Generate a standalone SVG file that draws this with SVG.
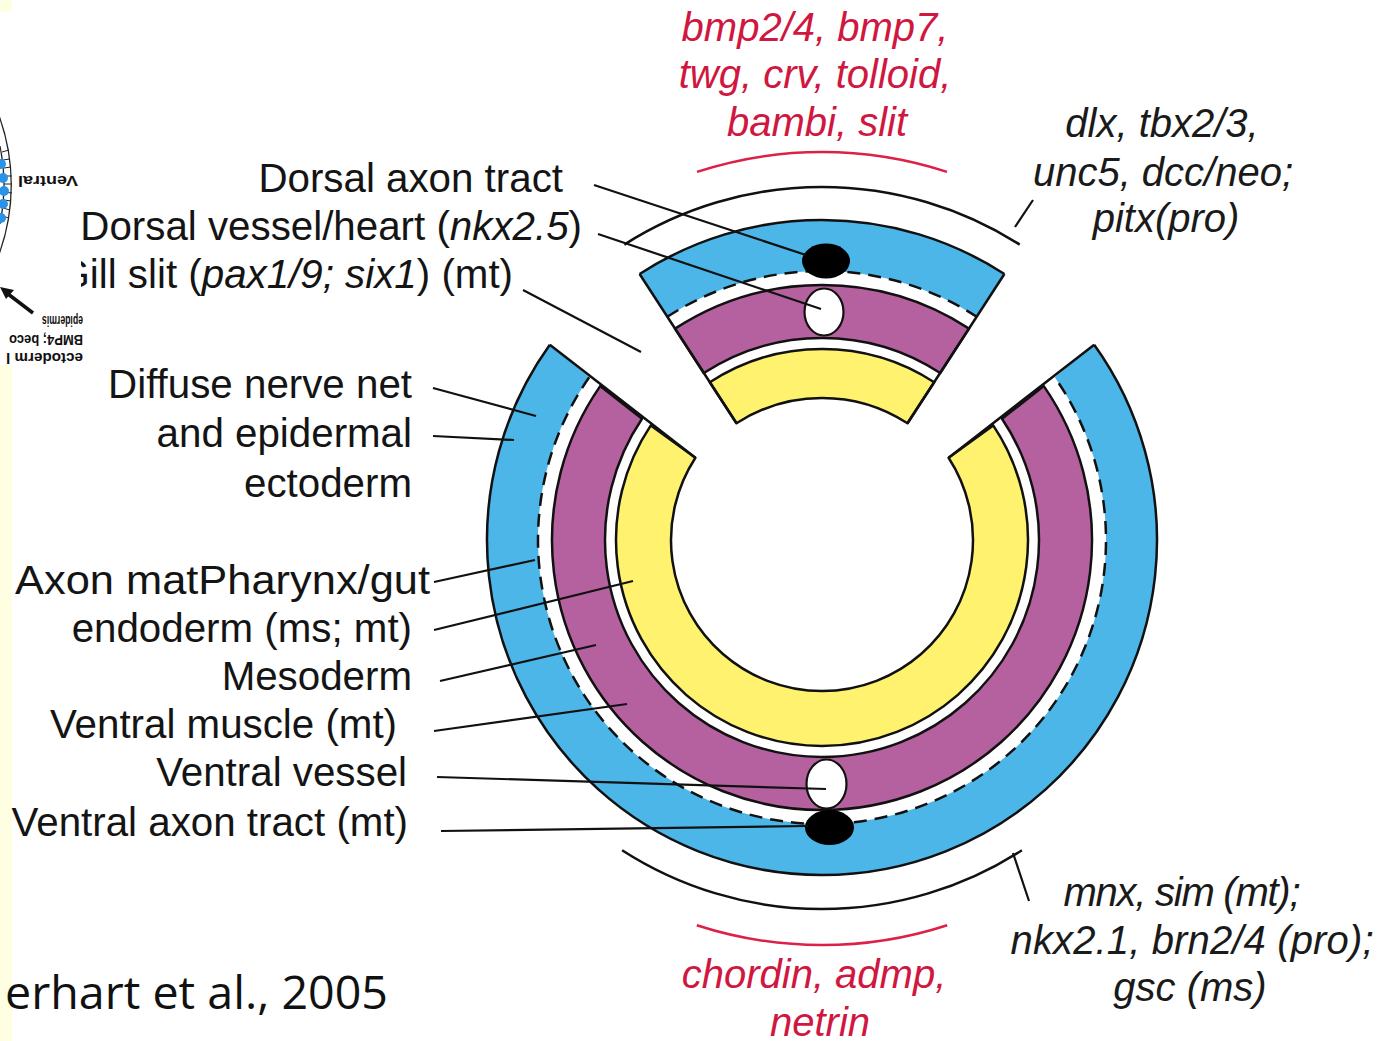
<svg xmlns="http://www.w3.org/2000/svg" width="1393" height="1041" viewBox="0 0 1393 1041">
  <style>
    .lbl { font-family: "Liberation Sans", Arial, sans-serif; font-size: 40.3px; fill: #141414; }
    .gene { font-family: "Liberation Sans", Arial, sans-serif; font-size: 40px; font-style: italic; fill: #1a1a1a; text-anchor: middle; }
    .red { font-family: "Liberation Sans", Arial, sans-serif; font-size: 40px; font-style: italic; fill: #d0173f; text-anchor: middle; }
    .it { font-style: italic; }
    .end { text-anchor: end; }
    .blue { fill: #4cb6e9; stroke: none; }
    .mag { fill: #b5619f; stroke: #111; stroke-width: 2.5; stroke-linejoin: round; }
    .yel { fill: #fff26e; stroke: #111; stroke-width: 2.5; stroke-linejoin: round; }
    .edge { fill: none; stroke: #111; stroke-width: 2.5; }
    .dash { fill: none; stroke: #111; stroke-width: 2.5; stroke-dasharray: 13 8; }
    .lead { fill: none; stroke: #111; stroke-width: 2.2; }
    .arc { fill: none; stroke: #111; stroke-width: 2.5; }
    .rarc { fill: none; stroke: #dd2047; stroke-width: 2.5; }
    .inset { font-family: "Liberation Sans", Arial, sans-serif; font-size: 15px; font-weight: bold; fill: #111; }
  </style>

  <rect x="0" y="0" width="1393" height="1041" fill="#ffffff"/>
  <!-- pale slide strip along the left edge -->
  <rect x="0" y="0" width="12" height="1041" fill="#fefee2"/>

  <!-- ventral (lower) body wall: ectoderm, mesoderm, endoderm rings -->
  <g id="ventral-piece">
    <path class="blue" d="M 549.8,344.7 A 335 335 0 1 0 1094.2,344.7 L 1054.8,377.3 A 284 284 0 1 1 589.2,377.3 Z"/>
    <path class="edge" d="M 549.8,344.7 A 335 335 0 1 0 1094.2,344.7"/>
    <path class="dash" d="M 589.2,377.3 A 284 284 0 1 0 1054.8,377.3"/>
    <path class="mag" d="M 600.2,386.1 A 270 270 0 1 0 1043.8,386.1 L 1002.0,418.8 A 217 217 0 1 1 642.0,418.8 Z"/>
    <path class="yel" d="M 650.8,425.4 A 206 206 0 1 0 993.2,425.4 L 948.6,457.8 A 151 151 0 1 1 695.4,457.8 Z"/>
    <path class="edge" d="M 549.8,344.7 L 695.4,457.8 M 1094.2,344.7 L 948.6,457.8"/>
  </g>

  <!-- dorsal (upper) body wall segment -->
  <g id="dorsal-piece">
    <path class="blue" d="M 639.6,274.0 A 335 335 0 0 1 1004.4,274.0 L 976.7,316.8 A 284 284 0 0 0 667.3,316.8 Z"/>
    <path class="edge" d="M 639.6,274.0 A 335 335 0 0 1 1004.4,274.0"/>
    <path class="dash" d="M 667.3,316.8 A 284 284 0 0 1 976.7,316.8"/>
    <path class="mag" d="M 675.0,328.6 A 270 270 0 0 1 969.0,328.6 L 940.2,373.0 A 217 217 0 0 0 703.8,373.0 Z"/>
    <path class="yel" d="M 709.8,382.2 A 206 206 0 0 1 934.2,382.2 L 907.5,423.3 A 157 157 0 0 0 736.5,423.3 Z"/>
    <path class="edge" d="M 639.6,274.0 L 736.5,423.3 M 1004.4,274.0 L 907.5,423.3"/>
  </g>

  <!-- axon tracts (black) and vessels (white) -->
  <g id="dorsal-axon-tract"><ellipse cx="826" cy="261" rx="24" ry="17.5" fill="#000"/></g>
  <g id="dorsal-vessel"><ellipse cx="824" cy="312" rx="19.5" ry="23.5" fill="#fff" stroke="#111" stroke-width="2.2"/></g>
  <g id="ventral-vessel"><ellipse cx="826.5" cy="784" rx="20" ry="24.5" fill="#fff" stroke="#111" stroke-width="2.2"/></g>
  <g id="ventral-axon-tract"><ellipse cx="829.5" cy="827.5" rx="24.5" ry="17.5" fill="#000"/></g>

  <!-- expression domain brackets -->
  <g id="domains">
    <path class="arc" d="M 624.3,244.6 A 368 368 0 0 1 1019.7,244.6"/>
    <path class="rarc" d="M 697,171.9 A 403 403 0 0 1 947,171.9"/>
    <line class="lead" x1="1015" y1="227" x2="1033" y2="200"/>
    <path class="arc" d="M 622.1,850.2 A 369 369 0 0 0 1021.9,850.2"/>
    <path class="rarc" d="M 696.8,925.2 A 405 405 0 0 0 947.2,925.2"/>
    <line class="lead" x1="1013" y1="853" x2="1029" y2="901"/>
  </g>

  <!-- leader lines -->
  <g id="connectors">
    <line class="lead" x1="594" y1="185" x2="806" y2="255"/>
    <line class="lead" x1="598" y1="234" x2="821" y2="309"/>
    <line class="lead" x1="523" y1="290" x2="641" y2="352"/>
    <line class="lead" x1="433" y1="388" x2="536" y2="416"/>
    <line class="lead" x1="433" y1="436" x2="514" y2="440"/>
    <line class="lead" x1="434" y1="582" x2="535" y2="560"/>
    <line class="lead" x1="434" y1="630" x2="633" y2="581"/>
    <line class="lead" x1="440" y1="681" x2="596" y2="645"/>
    <line class="lead" x1="434" y1="731" x2="627" y2="704"/>
    <line class="lead" x1="437" y1="777" x2="826" y2="789"/>
    <line class="lead" x1="441" y1="831" x2="808" y2="826"/>
  </g>

  <!-- structure labels -->
  <g id="labels">
    <text class="lbl end" x="563" y="192">Dorsal axon tract</text>
    <text class="lbl end" x="582" y="240">Dorsal vessel/heart (<tspan class="it">nkx2.5</tspan>)</text>
    <text class="lbl end" x="513" y="288">Gill slit (<tspan class="it">pax1/9; six1</tspan>) (mt)</text>
    <text class="lbl end" x="412" y="398">Diffuse nerve net</text>
    <text class="lbl end" x="412" y="447">and epidermal</text>
    <text class="lbl end" x="412" y="497">ectoderm</text>
    <text class="lbl end" x="430" y="594" textLength="415" lengthAdjust="spacingAndGlyphs">Axon matPharynx/gut</text>
    <text class="lbl end" x="412" y="642">endoderm (ms; mt)</text>
    <text class="lbl end" x="412" y="690">Mesoderm</text>
    <text class="lbl end" x="397" y="738">Ventral muscle (mt)</text>
    <text class="lbl end" x="407" y="786">Ventral vessel</text>
    <text class="lbl end" x="408" y="836">Ventral axon tract (mt)</text>
  </g>

  <!-- gene lists -->
  <g id="dorsal-genes-red">
    <text class="red" x="815" y="41">bmp2/4, bmp7,</text>
    <text class="red" x="815" y="88">twg, crv, tolloid,</text>
    <text class="red" x="817" y="136">bambi, slit</text>
  </g>
  <g id="ventral-genes-red">
    <text class="red" x="814" y="988">chordin, admp,</text>
    <text class="red" x="820" y="1036">netrin</text>
  </g>
  <g id="dorsal-genes">
    <text class="gene" x="1162" y="137">dlx, tbx2/3,</text>
    <text class="gene" x="1163" y="186">unc5, dcc/neo;</text>
    <text class="gene" x="1166" y="232">pitx(pro)</text>
  </g>
  <g id="ventral-genes">
    <text class="gene" x="1182" y="906" textLength="237">mnx, sim (mt);</text>
    <text class="gene" x="1192" y="954" textLength="363">nkx2.1, brn2/4 (pro);</text>
    <text class="gene" x="1190" y="1001">gsc (ms)</text>
  </g>

  <!-- inverted inset figure at top left, lying over the label column -->
  <g id="inset">
    <rect x="0" y="12" width="81" height="353" fill="#ffffff"/>
    <path d="M -2,113 A 202 202 0 0 1 -2,257" fill="none" stroke="#222" stroke-width="1.3"/>
    <path d="M 0,146 A 194 194 0 0 1 0,224" fill="none" stroke="#222" stroke-width="1.2"/>
    <g stroke="#222" stroke-width="1">
      <line x1="2" y1="152" x2="9" y2="150"/>
      <line x1="3" y1="160" x2="10" y2="159"/>
      <line x1="4" y1="168" x2="11" y2="167"/>
      <line x1="4" y1="176" x2="12" y2="176"/>
      <line x1="4" y1="184" x2="12" y2="184"/>
      <line x1="4" y1="192" x2="12" y2="193"/>
      <line x1="4" y1="200" x2="11" y2="201"/>
      <line x1="3" y1="208" x2="10" y2="210"/>
      <line x1="2" y1="216" x2="9" y2="218"/>
    </g>
    <g fill="#2a93e8">
      <circle cx="1" cy="164" r="5"/>
      <circle cx="3" cy="178" r="5"/>
      <circle cx="4" cy="191" r="5"/>
      <circle cx="3" cy="204" r="5"/>
      <circle cx="1" cy="218" r="5"/>
    </g>
    <text class="inset" transform="translate(78,176) rotate(180)" textLength="60" lengthAdjust="spacingAndGlyphs">Ventral</text>
    <line x1="33" y1="313" x2="8" y2="294" stroke="#111" stroke-width="3.5"/>
    <polygon points="0,287 14,290 6,299" fill="#111"/>
    <text class="inset" transform="translate(83,316) rotate(180)" textLength="41" lengthAdjust="spacingAndGlyphs">epidermis</text>
    <text class="inset" transform="translate(83,335) rotate(180)" textLength="74" lengthAdjust="spacingAndGlyphs">BMP4; beco</text>
    <text class="inset" transform="translate(83,353) rotate(180)" textLength="77" lengthAdjust="spacingAndGlyphs">ectoderm l</text>
  </g>

  <g id="citation">
    <text x="5" y="1009" font-family="'Open Sans', 'Noto Sans', sans-serif" font-size="45" fill="#111" textLength="383" lengthAdjust="spacingAndGlyphs">erhart et al., 2005</text>
  </g>
</svg>
